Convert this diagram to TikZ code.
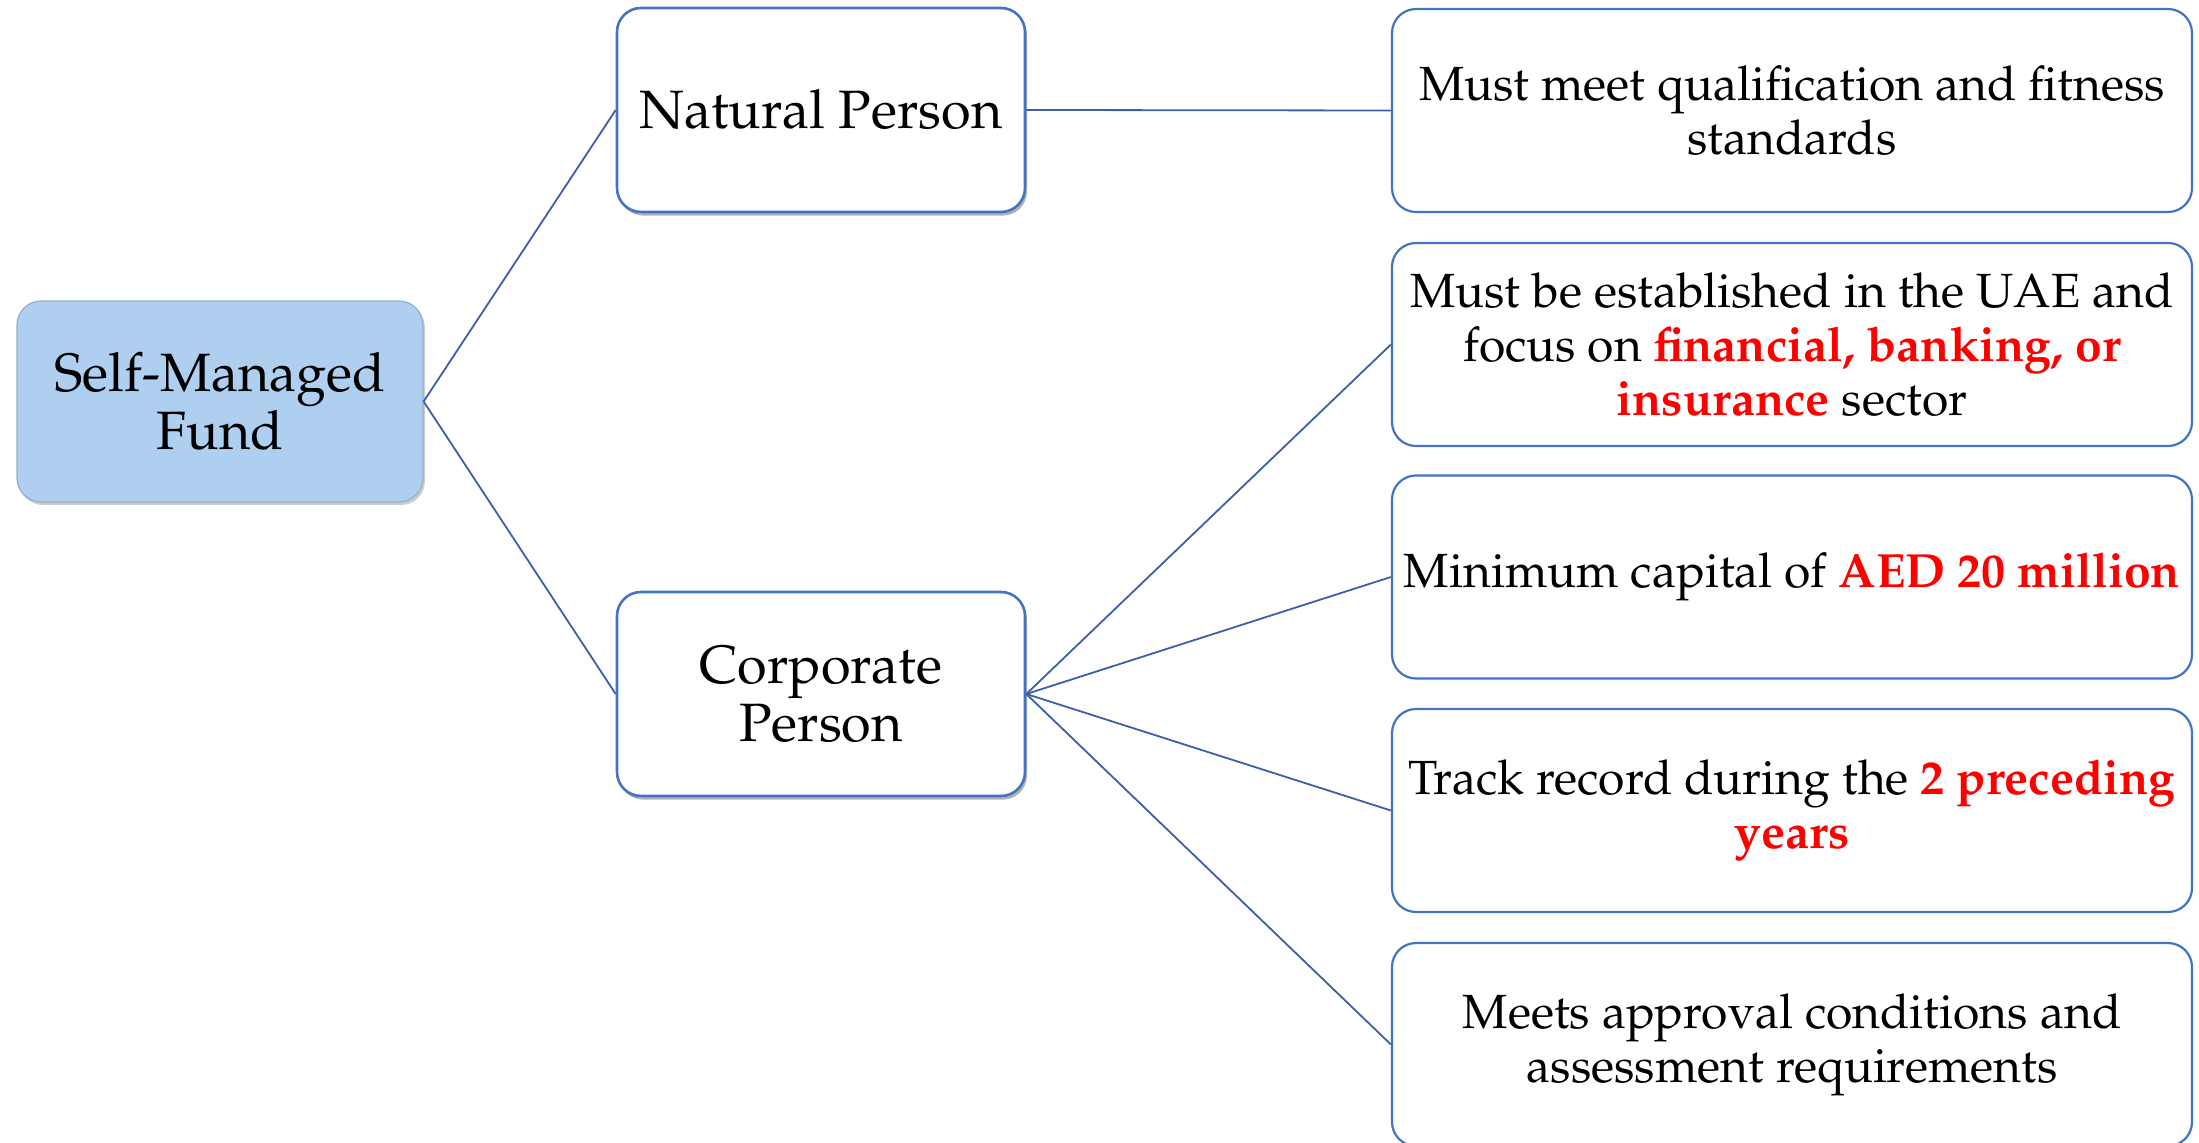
\documentclass[tikz,border=0pt]{standalone}
\usepackage[T1]{fontenc}
\usepackage{mathpazo}
\usetikzlibrary{shadows}
\definecolor{boxblue}{RGB}{68,114,196}
\definecolor{linkblue}{RGB}{62,94,172}
\definecolor{rootfill}{RGB}{174,207,240}
\definecolor{rootedge}{RGB}{150,175,205}
\definecolor{hot}{RGB}{255,0,0}
\newcommand\hl[1]{\textcolor{hot}{\textbf{#1}}}
\tikzset{
  base/.style={rounded corners=12pt, align=center, inner sep=0pt},
  root/.style={base, fill=rootfill, draw=rootedge, line width=0.6pt,
    minimum width=203pt, minimum height=100.5pt,
    font=\fontsize{27}{29}\selectfont,
    drop shadow={shadow xshift=1pt, shadow yshift=-1.5pt, opacity=0.4}},
  mid/.style={base, fill=white, draw=boxblue, line width=1.3pt,
    minimum width=204pt, minimum height=102pt,
    font=\fontsize{27}{29}\selectfont,
    drop shadow={shadow xshift=1pt, shadow yshift=-1.8pt, opacity=0.6}},
  leaf/.style={base, fill=white, draw=boxblue, line width=1.1pt,
    minimum width=400pt, minimum height=101.5pt,
    font=\fontsize{24}{27}\selectfont},
  link/.style={draw=linkblue, line width=0.9pt}
}
\begin{document}
\begin{tikzpicture}[x=0.5pt, y=-0.5pt]
\useasboundingbox (0,0) rectangle (2199,1143);
\node[root] (root) at (220,401.5) {Self-Managed\\Fund};
\node[mid] (nat) at (821,110) {Natural Person};
\node[mid] (corp) at (821,694) {Corporate\\Person};
\node[leaf] (l1) at (1792,110.5) {Must meet qualification and fitness\\standards};
\node[leaf] (l2) at (1792,344.5) {Must be established in the UAE and\\focus on \hl{financial, banking, or}\\\hl{insurance} sector};
\node[leaf] (l3) at (1792,577) {Minimum capital of \hl{AED 20 million}};
\node[leaf] (l4) at (1792,810.5) {Track record during the \hl{2 preceding}\\\hl{years}};
\node[leaf] (l5) at (1792,1044.5) {Meets approval conditions and\\assessment requirements};
\draw[link] (root.east) -- (nat.west);
\draw[link] (root.east) -- (corp.west);
\draw[link] (nat.east) -- (l1.west);
\draw[link] (corp.east) -- (l2.west);
\draw[link] (corp.east) -- (l3.west);
\draw[link] (corp.east) -- (l4.west);
\draw[link] (corp.east) -- (l5.west);
\end{tikzpicture}
\end{document}
